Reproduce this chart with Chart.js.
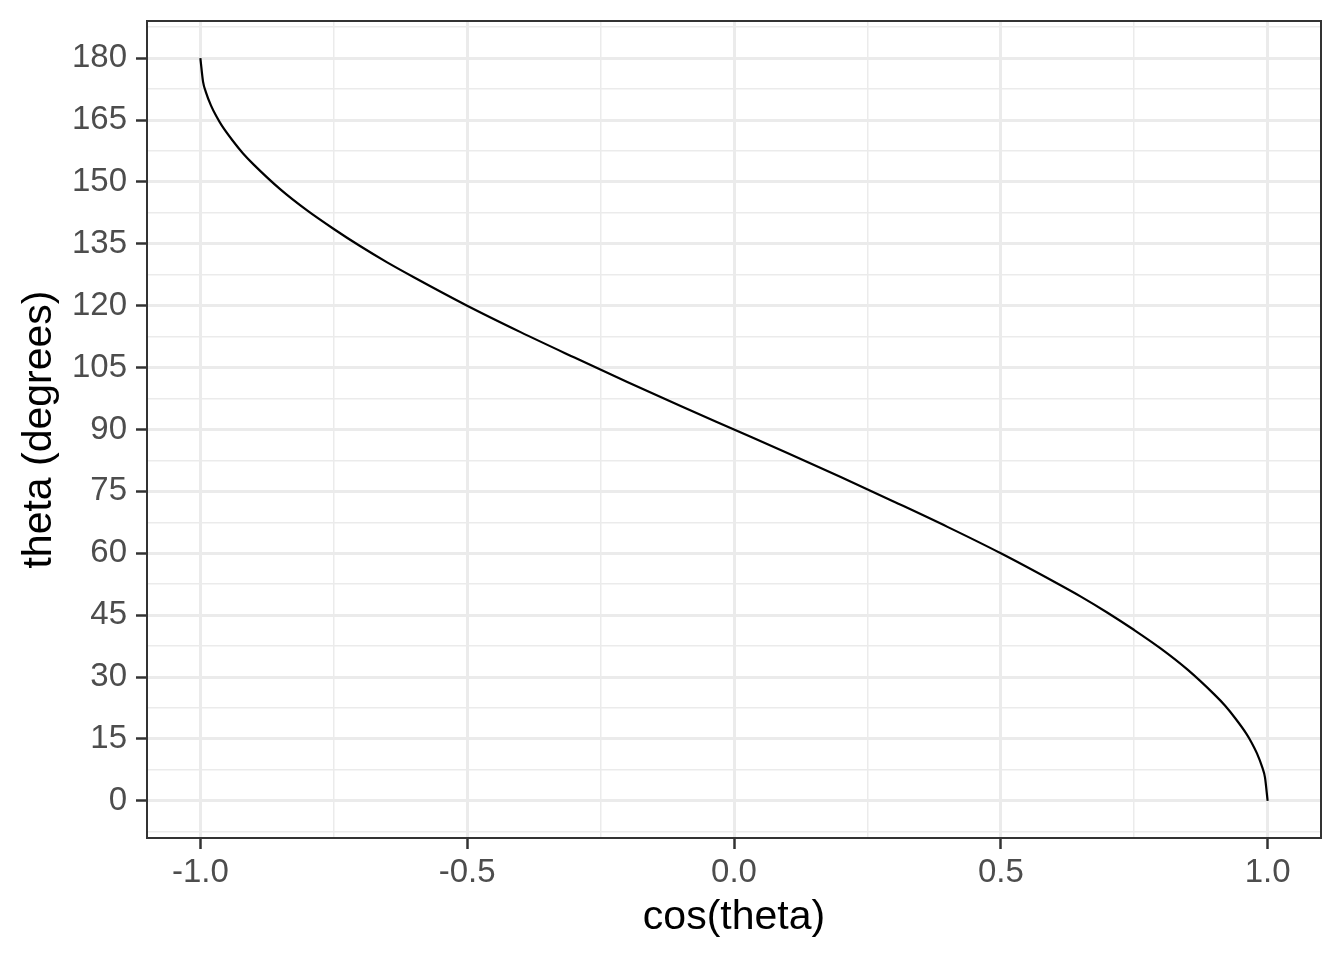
<!DOCTYPE html>
<html>
<head>
<meta charset="utf-8">
<script src="https://cdn.jsdelivr.net/npm/chart.js@4"></script>
<style>
  body { margin: 0; background: #fff; }
</style>
</head>
<body>
<canvas id="chartArccos" width="1344" height="960"></canvas>
<script>
// points: x = cos(theta), y = theta in degrees
const cosValues = [-1, -0.995, -0.99, -0.98, -0.97, -0.96, -0.94, -0.92, -0.9, -0.85, -0.8, -0.75, -0.7, -0.65, -0.6, -0.5, -0.4, -0.3, -0.2, -0.1,
    0, 0.1, 0.2, 0.3, 0.4, 0.5, 0.6, 0.65, 0.7, 0.75, 0.8, 0.85, 0.9, 0.92, 0.94, 0.96, 0.97, 0.98, 0.99, 0.995, 1];
const thetaDegrees = [180, 174.3, 171.9, 168.5, 165.9, 163.7, 160.1, 156.9, 154.2, 148.2, 143.1, 138.6, 134.4, 130.5, 126.9, 120, 113.6, 107.5, 101.5, 95.7,
    90, 84.3, 78.5, 72.5, 66.4, 60, 53.1, 49.5, 45.6, 41.4, 36.9, 31.8, 25.8, 23.1, 19.9, 16.3, 14.1, 11.5, 8.1, 5.7, 0];

const xMajor = [-1, -0.5, 0, 0.5, 1];
const xMinor = [-0.75, -0.25, 0.25, 0.75];
const yMajor = [0, 15, 30, 45, 60, 75, 90, 105, 120, 135, 150, 165, 180];
const yMinor = [-7.5, 7.5, 22.5, 37.5, 52.5, 67.5, 82.5, 97.5, 112.5, 127.5, 142.5, 157.5, 172.5, 187.5];

const gridColor = '#EBEBEB';
const tickFont = { family: 'Liberation Sans, Arial, sans-serif', size: 33 };
const titleFont = { family: 'Liberation Sans, Arial, sans-serif', size: 41 };

function isMajor(list, v) {
    return list.some(m => Math.abs(m - v) < 1e-9);
}

function setTicks(values) {
    return function(scale) {
        scale.ticks = values.slice().sort((a, b) => a - b).map(v => ({ value: v }));
    };
}

function gridStyle(majors) {
    return {
        color: gridColor,
        lineWidth: ctx => isMajor(majors, ctx.tick.value) ? 3 : 1.5,
        tickColor: ctx => isMajor(majors, ctx.tick.value) ? '#333333' : 'rgba(0,0,0,0)',
        tickWidth: 2.5,
        tickLength: 11,
        drawTicks: true
    };
}

const panelBorder = {
    id: 'panelBorder',
    afterDraw(chart) {
        const { ctx, chartArea } = chart;
        ctx.save();
        ctx.strokeStyle = '#333333';
        ctx.lineWidth = 2;
        ctx.strokeRect(chartArea.left, chartArea.top, chartArea.right - chartArea.left, chartArea.bottom - chartArea.top);
        ctx.restore();
    }
};

const points = cosValues.map((x, i) => ({ x: x, y: thetaDegrees[i] }));

new Chart(document.getElementById('chartArccos'), {
    type: 'line',
    data: {
        datasets: [{
            data: points,
            borderColor: '#000000',
            borderWidth: 2.2,
            pointRadius: 0,
            fill: false,
            cubicInterpolationMode: 'monotone'
        }]
    },
    options: {
        responsive: false,
        devicePixelRatio: 1,
        animation: false,
        layout: {
            padding: { top: 21, right: 23, left: 0, bottom: 0 }
        },
        plugins: {
            legend: { display: false },
            tooltip: { enabled: false }
        },
        scales: {
            x: {
                type: 'linear',
                min: -1.1,
                max: 1.1,
                afterBuildTicks: setTicks(xMajor.concat(xMinor)),
                afterFit: scale => {
                    scale.height = 122;
                    scale.paddingLeft = 0;
                    scale.paddingRight = 0;
                },
                grid: gridStyle(xMajor),
                border: { display: false },
                ticks: {
                    autoSkip: false,
                    maxRotation: 0,
                    padding: 4,
                    color: '#4D4D4D',
                    font: tickFont,
                    callback: v => isMajor(xMajor, v) ? v.toFixed(1) : ''
                },
                title: {
                    display: true,
                    text: 'cos(theta)',
                    color: '#000000',
                    font: titleFont,
                    padding: { top: 0, bottom: 18 }
                }
            },
            y: {
                type: 'linear',
                min: -9,
                max: 189,
                afterBuildTicks: setTicks(yMajor.concat(yMinor)),
                afterFit: scale => {
                    scale.width = 147;
                    scale.paddingTop = 0;
                    scale.paddingBottom = 0;
                },
                grid: gridStyle(yMajor),
                border: { display: false },
                ticks: {
                    autoSkip: false,
                    padding: 9,
                    color: '#4D4D4D',
                    font: tickFont,
                    callback: v => isMajor(yMajor, v) ? String(v) : ''
                },
                title: {
                    display: true,
                    text: 'theta (degrees)',
                    color: '#000000',
                    font: titleFont,
                    padding: { top: 15, bottom: 0 }
                }
            }
        }
    },
    plugins: [panelBorder]
});
</script>
</body>
</html>
